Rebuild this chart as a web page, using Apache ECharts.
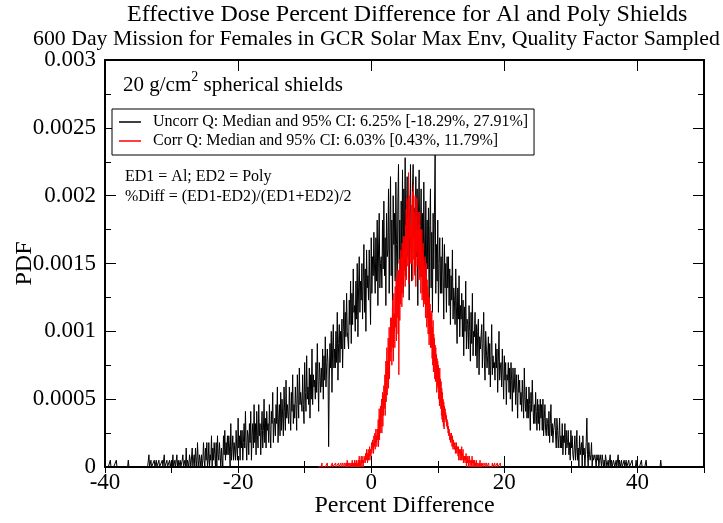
<!DOCTYPE html>
<html><head><meta charset="utf-8">
<script src="https://cdn.jsdelivr.net/npm/echarts@6/dist/echarts.min.js"></script>
<style>html,body{margin:0;padding:0;background:#fff}#c{width:723px;height:523px}</style>
</head><body><div id="c"></div>
<script>
const titleText = 'Effective Dose Percent Difference for Al and Poly Shields';
const subtitleText = '600 Day Mission for Females in GCR Solar Max Env, Quality Factor Sampled';
const xAxisName = 'Percent Difference';
const yAxisName = 'PDF';
const seriesNames = ['Uncorr Q: Median and 95% CI: 6.25% [-18.29%, 27.91%]', 'Corr Q: Median and 95% CI: 6.03% [0.43%, 11.79%]'];
const noteLines = ['ED1 = Al; ED2 = Poly', '%Diff = (ED1-ED2)/(ED1+ED2)/2'];
const xTicks = [-40, -20, 0, 20, 40];
const yTicks = [0, 0.0005, 0.001, 0.0015, 0.002, 0.0025, 0.003];

// Uncorrelated-Q histogram: bins start at -39.5, width 0.1; PDF values in units of 1e-5
const blackStartX = -39.5, blackStep = 0.1;
const blackPdfE5 = [
0,0,0,5,0,0,0,0,0,0,
0,0,5,0,0,0,0,0,0,0,
0,0,0,0,0,0,0,0,0,0,
5,0,0,0,0,0,0,0,0,0,
0,0,0,0,0,0,0,0,0,0,
0,0,0,0,0,0,0,0,0,0,
0,9,0,0,5,0,0,0,0,5,
0,0,5,0,0,0,5,0,0,0,
0,5,0,0,9,0,0,0,5,0,
0,0,5,0,0,5,0,9,0,0,
5,0,0,9,0,5,0,0,5,0,
0,5,9,0,0,5,0,14,0,5,
5,0,9,5,0,0,14,0,5,9,
0,14,5,0,18,5,0,9,5,0,
9,0,5,18,5,0,14,5,18,0,
5,18,0,9,5,23,0,14,5,18,
9,0,18,0,23,9,5,18,9,0,
14,5,0,23,9,27,5,18,9,23,
9,23,14,0,32,5,14,23,5,18,
18,5,27,14,5,36,14,23,5,27,
14,27,5,18,32,14,41,18,5,27,
23,9,32,18,41,5,23,32,14,46,
18,32,9,41,23,14,46,23,32,9,
27,41,14,27,50,18,36,14,41,27,
32,18,46,27,14,41,32,55,18,32,
36,23,46,32,59,18,36,46,23,55,
27,50,36,23,59,41,27,64,36,46,
46,32,59,41,27,55,41,68,32,46,
36,59,46,27,68,50,36,73,46,55,
55,41,68,46,32,77,55,41,82,50,
59,46,73,36,68,50,87,46,68,59,
64,50,77,55,91,64,41,77,68,55,
73,59,87,50,82,64,96,59,73,87,
77,15,64,91,73,100,55,87,105,73,
87,73,100,77,114,64,91,105,77,100,
87,109,73,100,123,87,114,96,128,100,
100,87,123,105,137,91,128,105,146,114,
119,100,137,109,150,96,132,155,114,137,
123,150,109,137,164,114,146,100,160,132,
141,123,160,132,105,169,128,155,141,173,
146,128,169,137,182,119,160,187,132,150,
155,132,182,146,196,141,169,119,187,155,
160,205,128,173,214,141,182,119,200,164,
187,137,210,164,123,196,223,150,182,132,
196,146,219,128,205,160,228,141,187,214,
155,210,123,182,223,160,137,205,223,169,
191,141,214,155,205,119,187,219,146,178,
205,146,187,128,210,160,123,196,141,182,
146,191,119,178,205,132,173,114,187,146,
146,230,128,164,137,182,114,150,169,128,
155,128,169,141,109,164,132,150,114,155,
132,155,119,146,105,141,123,160,109,132,
123,105,146,118,91,132,109,141,96,119,
109,128,96,123,82,118,100,137,87,109,
105,87,119,100,78,114,91,128,82,100,
96,114,82,105,73,100,109,68,96,87,
87,105,73,91,114,78,64,100,87,73,
82,96,68,91,59,82,105,68,82,73,
77,64,91,73,87,55,78,100,64,73,
77,59,87,68,50,82,64,77,46,68,
64,77,55,73,50,77,64,41,73,55,
59,73,46,68,55,36,68,55,64,46,
55,41,64,50,36,73,50,41,59,36,
50,36,59,46,27,55,41,64,46,32,
46,32,55,41,27,50,32,46,27,50,
36,46,27,50,23,36,46,27,23,36,
32,23,41,18,32,46,23,32,18,27,
27,36,23,14,36,27,14,23,36,14,
23,14,32,9,23,18,32,9,27,14,
18,27,9,18,5,27,14,23,9,5,
14,23,5,14,27,5,14,0,23,9,
9,18,0,23,9,14,0,9,18,36,
9,0,18,9,5,9,18,0,9,5,
5,9,5,0,9,5,9,0,5,9,
5,0,9,5,0,5,0,9,5,0,
0,5,0,5,9,0,5,0,0,5,
5,0,0,5,0,0,9,0,5,0,
0,5,0,0,0,5,0,0,5,0,
0,0,5,0,0,0,0,5,0,0,
0,0,0,5,0,0,0,0,0,0,
0,5,0,0,0,0,0,0,5,0,
0,0,0,0,0,0,0,0,0,0,
0,0,0,0,0,0,0,0,0,0,
5,0,0,0,0,0
];

// Correlated-Q histogram: bins start at -8.0, width 0.05; PDF values in units of 1e-5
const redStartX = -8.0, redStep = 0.05;
const redPdfE5 = [
0,0,0,0,0,0,0,0,0,0,0,0,3,0,0,0,0,0,0,0,
0,0,0,0,0,0,0,0,3,0,0,0,0,0,0,0,0,0,0,0,
0,0,0,3,0,0,0,0,0,0,0,0,0,3,0,0,0,0,0,0,
0,0,3,0,0,0,0,0,0,3,0,0,0,0,0,3,0,0,0,0,
0,3,0,0,0,3,0,0,5,0,0,0,3,0,0,0,3,0,0,0,
3,0,0,5,0,3,0,0,3,0,5,0,0,3,0,5,0,3,0,0,
3,5,0,3,8,0,5,3,0,5,8,3,0,5,3,8,0,5,3,5,
5,8,3,10,5,8,13,5,10,3,8,13,5,10,8,15,5,10,13,8,
13,18,10,15,20,13,18,10,23,15,18,25,13,20,28,18,23,15,28,20,
23,35,15,30,43,20,38,25,45,30,40,50,25,45,55,30,53,38,60,43,
45,68,38,60,78,48,68,88,53,78,68,95,58,85,103,65,95,78,110,85,
85,110,75,100,123,88,113,78,128,100,113,88,133,103,120,140,93,130,110,145,
123,98,145,68,130,153,108,145,120,160,128,155,118,165,135,155,125,170,140,160,
145,170,133,178,155,190,138,198,158,183,148,195,217,135,185,168,200,150,178,160,
170,150,193,160,203,138,178,208,153,188,168,143,200,170,133,185,158,198,148,175,
170,188,148,178,138,165,188,140,175,128,163,140,175,123,158,138,165,118,153,130,
148,120,155,110,143,118,150,103,138,110,133,98,128,105,90,125,98,120,88,113,
108,88,115,80,103,75,108,70,98,78,95,65,90,63,88,65,83,55,80,60,
78,58,75,50,70,45,73,48,65,43,63,38,58,35,55,33,50,30,48,28,
45,38,43,35,40,33,38,30,35,28,33,25,30,23,28,25,20,25,18,23,
20,25,18,15,23,18,13,20,15,18,13,15,18,10,15,13,18,10,13,15,
13,8,15,5,13,10,13,5,10,13,5,8,15,5,10,8,13,3,8,5,
8,5,3,8,5,10,0,5,8,3,5,8,0,5,3,8,5,0,3,5,
3,5,0,8,3,5,0,3,5,0,3,5,0,3,0,3,5,0,0,3,
3,0,0,0,3,0,0,5,0,0,0,3,0,0,0,0,3,0,0,0,
0,0,3,0,0,0,0,3,0,0,0,0,0,3,0,0,0,0,0,0,
0,0,0,0,3,0,0,0,0,0,0,3,0,0,0,0,0,0,0,3,
0,0,0,0,0,0,0,0,3,0,0
];

const F = '"Liberation Serif","Times New Roman",serif';
const toPairs = (start, step, vals) => vals.map((v, i) => [+(start + i * step).toFixed(3), v * 1e-5]);

const chart = echarts.init(document.getElementById('c'), null, {renderer: 'canvas'});
const axisLine = {show: true, onZero: false, lineStyle: {color: '#000', width: 2}};
const tickMaj = {show: true, inside: true, length: 11, lineStyle: {color: '#000', width: 1}};
const tickMin = {show: true, inside: true, length: 6, lineStyle: {color: '#000', width: 1}};
const xBase = {type: 'value', min: xTicks[0], max: 50, splitLine: {show: false}};
const yBase = {type: 'value', min: yTicks[0], max: yTicks[yTicks.length - 1], interval: 0.0005, splitLine: {show: false}};

chart.setOption({
  animation: false,
  backgroundColor: '#fff',
  title: [
    {text: titleText, left: 127, top: 3, padding: 0, textStyle: {fontFamily: F, fontSize: 24, fontWeight: 'normal', color: '#000'}},
    {text: subtitleText, left: 33, top: 28, padding: 0, textStyle: {fontFamily: F, fontSize: 21.8, fontWeight: 'normal', color: '#000'}}
  ],
  grid: {left: 105, right: 19, top: 60, bottom: 56, containLabel: false, outerBoundsMode: 'none'},
  xAxis: [
    Object.assign({}, xBase, {position: 'bottom', interval: 20, axisLine: axisLine, axisTick: tickMaj,
      axisLabel: {show: true, margin: 4, fontSize: 23, fontFamily: F, color: '#000', showMaxLabel: false,
        formatter: v => xTicks.indexOf(v) >= 0 ? String(v) : ''},
      name: xAxisName, nameLocation: 'middle', nameGap: 27, nameMoveOverlap: false,
      nameTextStyle: {fontFamily: F, fontSize: 24, color: '#000'}}),
    Object.assign({}, xBase, {position: 'bottom', interval: 10, axisLine: {show: false}, axisTick: tickMin, axisLabel: {show: false}}),
    Object.assign({}, xBase, {position: 'top', interval: 20, axisLine: axisLine, axisTick: tickMaj, axisLabel: {show: false}}),
    Object.assign({}, xBase, {position: 'top', interval: 10, axisLine: {show: false}, axisTick: tickMin, axisLabel: {show: false}})
  ],
  yAxis: [
    Object.assign({}, yBase, {position: 'left', axisLine: axisLine, axisTick: tickMaj,
      minorTick: {show: true, splitNumber: 2, length: 6, lineStyle: {color: '#000', width: 1}},
      axisLabel: {show: true, margin: 9, fontSize: 23, fontFamily: F, color: '#000',
        formatter: v => v === 0 ? '0' : String(+v.toFixed(4))},
      name: yAxisName, nameLocation: 'middle', nameGap: 68, nameMoveOverlap: false,
      nameTextStyle: {fontFamily: F, fontSize: 24, color: '#000'}}),
    Object.assign({}, yBase, {position: 'right', axisLine: axisLine, axisTick: tickMaj,
      minorTick: {show: true, splitNumber: 2, length: 6, lineStyle: {color: '#000', width: 1}},
      axisLabel: {show: false}})
  ],
  legend: {
    orient: 'vertical', left: 112, top: 109, itemWidth: 22, itemHeight: 1.5, itemGap: 3, icon: 'rect',
    padding: [5, 6, 6, 7], borderColor: '#000', borderWidth: 1, backgroundColor: '#fff',
    textStyle: {fontFamily: F, fontSize: 16, lineHeight: 16, color: '#000', padding: [0, 0, 0, 7]},
    data: seriesNames
  },
  graphic: [
    {type: 'text', left: 123, top: 70, style: {
      text: '{b|20 g/cm}{s|2}{b| spherical shields}',
      rich: {b: {fontFamily: F, fontSize: 21, lineHeight: 30, fill: '#000'},
             s: {fontFamily: F, fontSize: 14, lineHeight: 14, fill: '#000', verticalAlign: 'top'}}}},
    {type: 'text', left: 125, top: 169, style: {text: noteLines[0], font: '16px ' + F, fill: '#000'}},
    {type: 'text', left: 125, top: 189, style: {text: noteLines[1], font: '16px ' + F, fill: '#000'}}
  ],
  series: [
    {name: seriesNames[0], type: 'line', xAxisIndex: 0, yAxisIndex: 0, symbol: 'none', showSymbol: false,
      lineStyle: {color: '#000', width: 1}, itemStyle: {color: '#000'}, data: toPairs(blackStartX, blackStep, blackPdfE5)},
    {name: seriesNames[1], type: 'line', xAxisIndex: 0, yAxisIndex: 0, symbol: 'none', showSymbol: false,
      lineStyle: {color: '#ff0000', width: 1}, itemStyle: {color: '#ff0000'}, data: toPairs(redStartX, redStep, redPdfE5)}
  ]
});
</script></body></html>
